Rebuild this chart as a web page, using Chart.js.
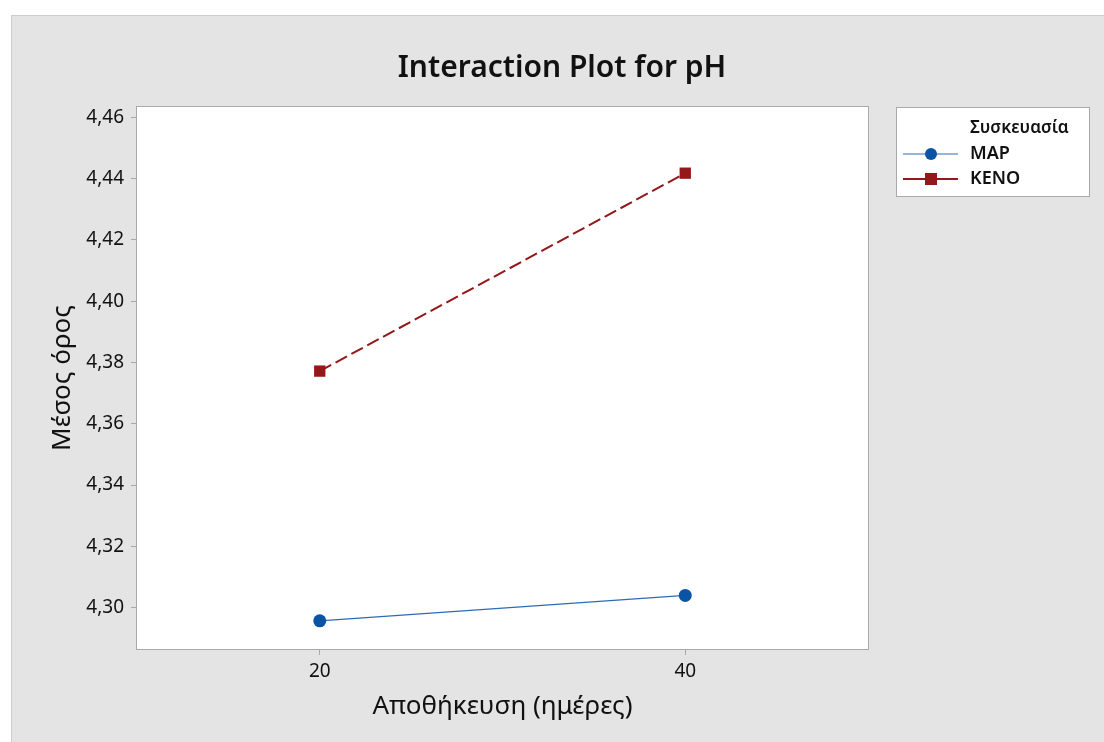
<!DOCTYPE html>
<html>
<head>
<meta charset="utf-8">
<script src="https://cdn.jsdelivr.net/npm/chart.js@4/dist/chart.umd.min.js"></script>
<style>
html,body{margin:0;padding:0;background:#fff;}
canvas{display:block;}
</style>
</head>
<body>
<canvas id="c" width="1104" height="742"></canvas>
<script>
const storageDays = [20, 40];
const xTickValues = [20, 40];
const mapValues = [4.2957, 4.3040];
const kenoValues = [4.3772, 4.4418];
const yTickValues = [4.30, 4.32, 4.34, 4.36, 4.38, 4.40, 4.42, 4.44, 4.46];
const seriesNames = ['MAP', 'KENO'];
const legendTitle = 'Συσκευασία';
const chartTitle = 'Interaction Plot for pH';
const xTitle = 'Αποθήκευση (ημέρες)';
const yTitle = 'Μέσος όρος';

const FONT = "'Noto Sans', 'Open Sans', sans-serif";
const MAP_COLOR = '#0a54a5';
const MAP_LINE = '#2d6bb8';
const KENO_COLOR = '#941719';

const bgPlugin = {
  id: 'bg',
  beforeDraw(chart) {
    const ctx = chart.ctx, a = chart.chartArea;
    ctx.save();
    ctx.fillStyle = '#ffffff';
    ctx.fillRect(0, 0, chart.width, chart.height);
    ctx.fillStyle = '#e4e4e4';
    ctx.fillRect(11, 15, chart.width - 11, chart.height - 15);
    ctx.strokeStyle = '#cdcdcd';
    ctx.lineWidth = 1;
    ctx.beginPath();
    ctx.moveTo(11.5, chart.height);
    ctx.lineTo(11.5, 15.5);
    ctx.lineTo(chart.width, 15.5);
    ctx.stroke();
    ctx.fillStyle = '#ffffff';
    ctx.fillRect(a.left, a.top, a.right - a.left, a.bottom - a.top);
    ctx.restore();
  },
  afterDraw(chart) {
    const ctx = chart.ctx, a = chart.chartArea;
    ctx.save();
    ctx.strokeStyle = '#a9a9a9';
    ctx.lineWidth = 1;
    ctx.strokeRect(Math.round(a.left) - 0.5, Math.round(a.top) - 0.5, Math.round(a.right - a.left) + 1, Math.round(a.bottom - a.top) + 1);
    // title
    ctx.fillStyle = '#111';
    ctx.font = "600 30px " + FONT;
    ctx.textAlign = 'center';
    ctx.textBaseline = 'middle';
    ctx.fillText(chartTitle, 562, 68);
    // legend
    const lx = 896, ly = 107, lw = 193, lh = 89;
    ctx.fillStyle = '#fff';
    ctx.fillRect(lx, ly, lw, lh);
    ctx.strokeStyle = '#a9a9a9';
    ctx.strokeRect(lx + 0.5, ly + 0.5, lw, lh);
    ctx.fillStyle = '#111';
    ctx.textAlign = 'left';
    ctx.font = "600 17px " + FONT;
    ctx.fillText(legendTitle, 970, 128);
    const rows = [154, 179];
    chart.data.datasets.forEach((ds, i) => {
      const y = rows[i];
      ctx.strokeStyle = ds.borderColor;
      ctx.lineWidth = i === 0 ? 1 : 2;
      ctx.setLineDash([]);
      ctx.beginPath();
      ctx.moveTo(903, y);
      ctx.lineTo(958, y);
      ctx.stroke();
      ctx.fillStyle = ds.pointBackgroundColor;
      if (ds.pointStyle === 'rect') {
        ctx.fillRect(925, y - 6, 12, 12);
      } else {
        ctx.beginPath();
        ctx.arc(931, y, 6, 0, Math.PI * 2);
        ctx.fill();
      }
      ctx.fillStyle = '#111';
      ctx.font = "600 18px " + FONT;
      ctx.fillText(ds.label, 970, y);
    });
    ctx.restore();
  }
};

new Chart(document.getElementById('c'), {
  type: 'line',
  data: {
    datasets: [
      {
        label: seriesNames[0],
        data: storageDays.map((d, i) => ({x: d, y: mapValues[i]})),
        borderColor: MAP_LINE,
        borderWidth: 1.2,
        pointStyle: 'circle',
        pointRadius: 6.5,
        pointBackgroundColor: MAP_COLOR,
        pointBorderColor: MAP_COLOR,
        pointBorderWidth: 0,
        tension: 0
      },
      {
        label: seriesNames[1],
        data: storageDays.map((d, i) => ({x: d, y: kenoValues[i]})),
        borderColor: KENO_COLOR,
        borderWidth: 2,
        borderDash: [13, 5],
        pointStyle: 'rect',
        pointRadius: 8,
        pointBackgroundColor: KENO_COLOR,
        pointBorderColor: KENO_COLOR,
        pointBorderWidth: 0,
        tension: 0
      }
    ]
  },
  options: {
    responsive: false,
    animation: false,
    events: [],
    layout: {padding: {left: 0, top: 107, right: 236, bottom: 0}},
    plugins: {
      legend: {display: false},
      title: {display: false},
      tooltip: {enabled: false}
    },
    scales: {
      x: {
        type: 'linear',
        min: 10,
        max: 50,
        afterBuildTicks: s => { s.ticks = xTickValues.map(v => ({value: v})); },
        afterFit: s => { s.height = 93; },
        grid: {drawOnChartArea: false, drawTicks: true, tickLength: 6, color: '#a9a9a9'},
        border: {display: false},
        ticks: {color: '#111', font: {family: FONT, size: 19}, padding: 5, maxRotation: 0},
        title: {display: true, text: xTitle, color: '#111', font: {family: FONT, size: 26}, padding: {top: 0, bottom: 20}}
      },
      y: {
        type: 'linear',
        min: 4.2865,
        max: 4.4634,
        afterBuildTicks: s => { s.ticks = yTickValues.map(v => ({value: v})); },
        afterFit: s => { s.width = 137; },
        grid: {drawOnChartArea: false, drawTicks: true, tickLength: 6, color: '#a9a9a9'},
        border: {display: false},
        ticks: {color: '#111', font: {family: FONT, size: 19}, padding: 7,
          callback: v => v.toFixed(2).replace('.', ',')},
        title: {display: true, text: yTitle, color: '#111', font: {family: FONT, size: 26}, padding: {top: 47, bottom: 0}}
      }
    }
  },
  plugins: [bgPlugin]
});
</script>
</body>
</html>
